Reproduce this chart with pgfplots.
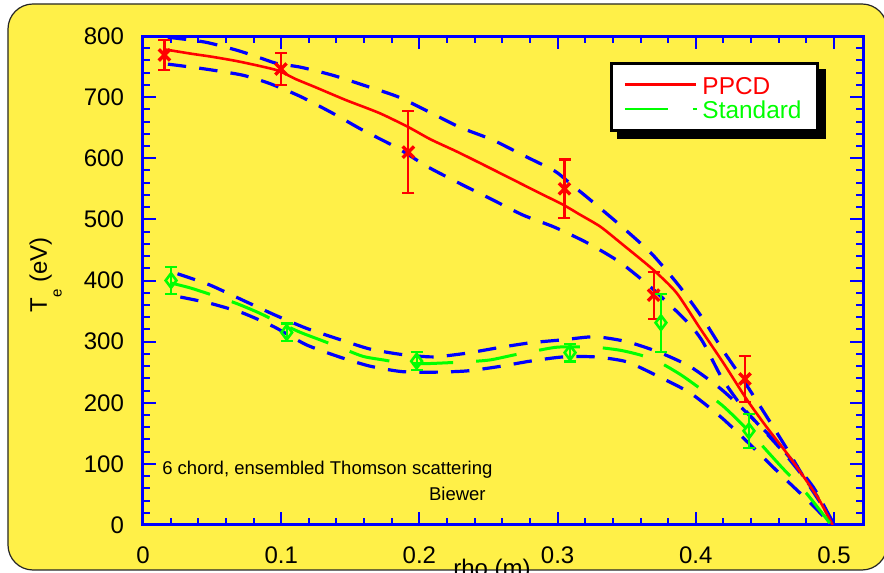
\documentclass[border=0pt]{standalone}
\usepackage{fontspec}
\setmainfont{Liberation Sans}
\usepackage{pgfplots}
\pgfplotsset{compat=1.18}

\definecolor{bgyellow}{RGB}{255,240,72}
\definecolor{fitblue}{RGB}{0,0,255}
\definecolor{ppcdred}{RGB}{255,0,0}
\definecolor{stdgreen}{RGB}{0,255,0}

\pgfdeclarelayer{backdrop}
\pgfdeclarelayer{shade}
\pgfsetlayers{backdrop,shade,main}

\pgfplotsset{
  band/.style={fitblue, line width=1.6pt, dash pattern=on 9.2pt off 6.6pt,
    smooth, tension=0.4, forget plot},
}

\begin{document}
\begin{tikzpicture}
\begin{pgfonlayer}{backdrop}
  \fill[white] (-71.5pt,-24pt) rectangle (370.5pt,262.5pt);
  \draw[fill=bgyellow, draw=black!85, line width=0.6pt, rounded corners=12.5pt]
    (-67.5pt,-22.5pt) rectangle (372pt,260.5pt);
\end{pgfonlayer}

\begin{axis}[
  scale only axis, width=360pt, height=244.5pt,
  xmin=0, xmax=0.521, ymin=0, ymax=800,
  xtick={0,0.1,0.2,0.3,0.4,0.5},
  ytick={0,100,200,300,400,500,600,700,800},
  minor x tick num=4, minor y tick num=4,
  tick align=inside, xtick pos=both, ytick pos=both,
  axis line style={fitblue, line width=1.5pt},
  every tick/.style={fitblue, line width=1pt},
  major tick length=6.5pt, minor tick length=3.5pt,
  tick label style={font=\fontsize{12}{14}\selectfont, black},
  /pgf/number format/assume math mode=true,
  xticklabel shift=7.5pt, yticklabel shift=6pt,
  clip mode=individual,
  legend style={
    name=legbox,
    at={(axis description cs:0.6486,0.9468)}, anchor=north west,
    draw=black, line width=1.5pt, fill=white,
    font=\fontsize{12.2}{12}\selectfont,
    inner xsep=6pt, inner ysep=4.5pt,
    nodes={text height=10.9pt, text depth=1.3pt, inner xsep=2.2pt, inner ysep=0pt},
    row sep=0pt,
  },
  legend cell align=left,
]

% confidence bands around the PPCD profile
\addplot[band] table {
0.018 798
0.045 790
0.069 776
0.085 764
0.097 755
0.114 749
0.137 736
0.159 720
0.184 701
0.206 677
0.229 651
0.253 630
0.275 605
0.298 579
0.310 557
0.322 535
0.345 491
0.368 444
0.388 391
0.405 338
0.419 288
0.435 235
0.450 182
0.465 128
0.479 75
0.495 20
0.500 0
};
\addplot[band] table {
0.018 754
0.045 746
0.072 736
0.092 722
0.114 701
0.137 674
0.159 646
0.184 617
0.206 586
0.229 559
0.253 532
0.275 507
0.298 487
0.322 461
0.345 430
0.368 388
0.394 332
0.405 300
0.419 240
0.433 195
0.443 170
0.465 115
0.485 57
0.499 3
};
% confidence bands around the standard profile
\addplot[band] table {
0.025 411
0.048 393
0.072 368
0.095 344
0.118 322
0.143 303
0.164 288
0.187 279
0.210 275
0.234 281
0.257 290
0.280 298
0.304 303
0.327 308
0.350 300
0.373 283
0.396 259
0.419 221
0.444 168
0.465 118
0.485 62
0.499 5
};
\addplot[band] table {
0.027 373
0.048 363
0.072 347
0.095 324
0.118 295
0.142 275
0.164 260
0.187 251
0.210 250
0.234 252
0.257 259
0.280 268
0.304 275
0.327 275
0.350 267
0.373 243
0.396 216
0.419 175
0.441 128
0.463 79
0.483 36
0.497 3
};

% fitted profiles
\addplot[ppcdred, line width=1.3pt, smooth, tension=0.4, forget plot] table {
0.016 778
0.035 771
0.050 766
0.070 758
0.097 744
0.110 730
0.125 716
0.147 695
0.171 674
0.192 651
0.208 631
0.227 611
0.244 592
0.266 567
0.287 543
0.304 524
0.316 508
0.331 488
0.347 459
0.369 418
0.386 380
0.403 322
0.420 265
0.437 205
0.451 161
0.468 111
0.488 46
0.499 0
};
\addplot[stdgreen, line width=1.5pt, dash pattern=on 20.5pt off 11.5pt,
  smooth, tension=0.4, forget plot] table {
0.020 396
0.034 388
0.049 377
0.067 363
0.082 349
0.095 335
0.113 316
0.128 303
0.142 291
0.159 276
0.174 270
0.188 265
0.205 264
0.234 267
0.251 270
0.268 278
0.280 283
0.300 291
0.326 291
0.345 286
0.360 278
0.373 267
0.391 243
0.419 196
0.439 152
0.462 95
0.480 52
0.497 3
};

% Thomson scattering measurements
\addplot[ppcdred, only marks, mark=x, mark size=4pt, line width=1.7pt, forget plot,
  error bars/.cd, y dir=both, y explicit,
  error bar style={ppcdred, line width=1.1pt},
  error mark options={rotate=90, ppcdred, mark size=3pt, line width=1.1pt}]
  table[y error index=2] {
0.0155 769 24.5
0.0998 746 26
0.1920 610 67
0.3050 550 48
0.3695 376 38.5
0.4356 239 37.5
};
\addplot[stdgreen, only marks, mark=diamond, mark size=3.6pt, line width=1.3pt, forget plot,
  error bars/.cd, y dir=both, y explicit,
  error bar style={stdgreen, line width=1.1pt},
  error mark options={rotate=90, stdgreen, mark size=3pt, line width=1.1pt}]
  table[y error index=2] {
0.0203 400 21.5
0.1040 315 14.5
0.1980 268 14.5
0.3090 282 14.5
0.3748 331 47.5
0.4385 154 28
};

\addlegendimage{legend image code/.code={\draw[ppcdred, line width=1.3pt] (0pt,0pt) -- (35.5pt,0pt);}}
\addlegendentry{\textcolor{ppcdred}{PPCD}}
\addlegendimage{legend image code/.code={\draw[stdgreen, line width=1.3pt] (0pt,0pt) -- (21.5pt,0pt) (34pt,0pt) -- (36pt,0pt);}}
\addlegendentry{\textcolor{stdgreen}{Standard}}

\node[anchor=base west, inner sep=0pt, font=\fontsize{9.25}{11}\selectfont]
  at (axis cs:0.0137,81.8) {6 chord, ensembled Thomson scattering};
\node[anchor=base east, inner sep=0pt, font=\fontsize{9.25}{11}\selectfont]
  at (axis cs:0.2482,40.9) {Biewer};
\end{axis}

% legend shadow
\begin{pgfonlayer}{shade}
  \fill[black] ([shift={(3.5pt,-3.5pt)}]legbox.south west) rectangle ([shift={(3.5pt,-3.5pt)}]legbox.north east);
\end{pgfonlayer}

% axis titles
\node[anchor=base, inner sep=0pt, font=\fontsize{12}{14}\selectfont] at (174.5pt,-26pt) {rho (m)};
\node[rotate=90, anchor=base, inner sep=0pt, font=\fontsize{12}{14}\selectfont] at (-48pt,125pt)
  {T\raisebox{-7.3pt}{\fontsize{7.5}{8}\selectfont e} (eV)};

\pgfresetboundingbox
\path[use as bounding box] (-71.5pt,-24pt) rectangle (370.5pt,262.5pt);
\end{tikzpicture}
\end{document}
